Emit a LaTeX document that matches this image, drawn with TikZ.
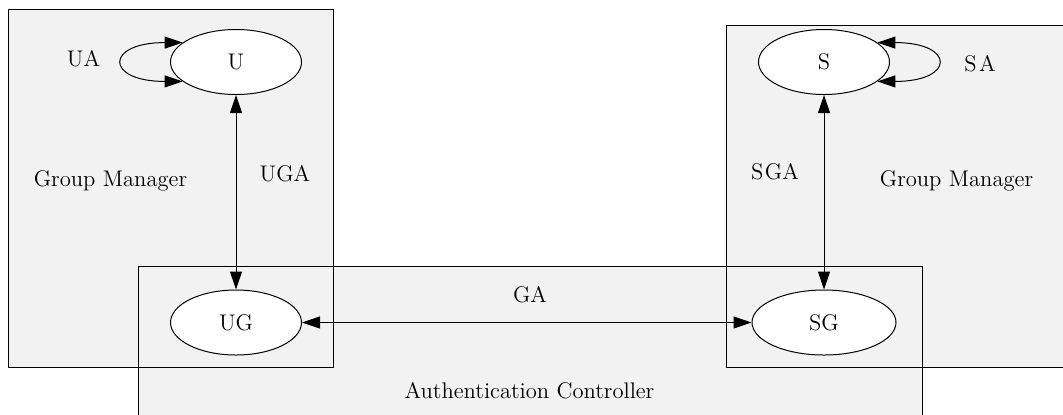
\documentclass[tikz,border=0pt]{standalone}
\usetikzlibrary{shapes.geometric,arrows.meta}
\definecolor{clusterfill}{HTML}{F2F2F2}
\begin{document}
\begin{tikzpicture}[x=0.5pt,y=-0.5pt,
  every node/.style={font=\fontsize{11.3}{13.5}\selectfont},
  cluster/.style={fill=clusterfill},
  frame/.style={draw=black,line width=0.5pt},
  state/.style={ellipse,draw=black,fill=white,line width=0.5pt,inner sep=0pt,
    minimum width=65.5pt,minimum height=32.5pt},
  lbl/.style={anchor=base,inner sep=0pt},
  link/.style={line width=0.5pt,
    {Triangle[length=9pt,width=6pt]}-{Triangle[length=9pt,width=6pt]}}
]
\useasboundingbox (0,0) rectangle (1063,414);
\clip (0,0) rectangle (1063,414);

% cluster backgrounds first, outlines on top
\path[cluster] (8,9) rectangle (333,367);
\path[cluster] (726,25) rectangle (1090,367);
\path[cluster] (138,266) rectangle (922,430);
\draw[frame] (8,9) rectangle (333,367);
\draw[frame] (726,25) rectangle (1090,367);
\draw[frame] (138,266) rectangle (922,430);

% cluster titles
\node[lbl] (gmleft) at (110.5,186.7) {Group Manager};
\node[lbl] (gmright) at (956.5,186.7) {Group Manager};
\node[lbl] (ac) at (529.5,398) {Authentication Controller};

% states
\node[state] (U) at (236,62) {U};
\node[state] (S) at (824,62) {S};
\node[state] (UG) at (236,322.5) {UG};
\node[state,minimum width=72pt] (SG) at (824,322.5) {SG};

% relations
\draw[link] (U.south) -- (UG.north);
\draw[link] (S.south) -- (SG.north);
\draw[link] (UG.east) -- (SG.west);
\draw[link] (U.160) .. controls +(-78,0) and +(-78,0) .. (U.200);
\draw[link] (S.20) .. controls +(78,0) and +(78,0) .. (S.340);

% relation labels
\node[lbl] (ua) at (83.5,66.7) {UA};
\node[lbl] (sa) at (980,71.7) {S\kern1.2pt A};
\node[lbl] (uga) at (285,181.7) {UGA};
\node[lbl] (sga) at (775,179) {S\kern0.8pt GA};
\node[lbl] (ga) at (530,302.7) {GA};
\end{tikzpicture}
\end{document}
